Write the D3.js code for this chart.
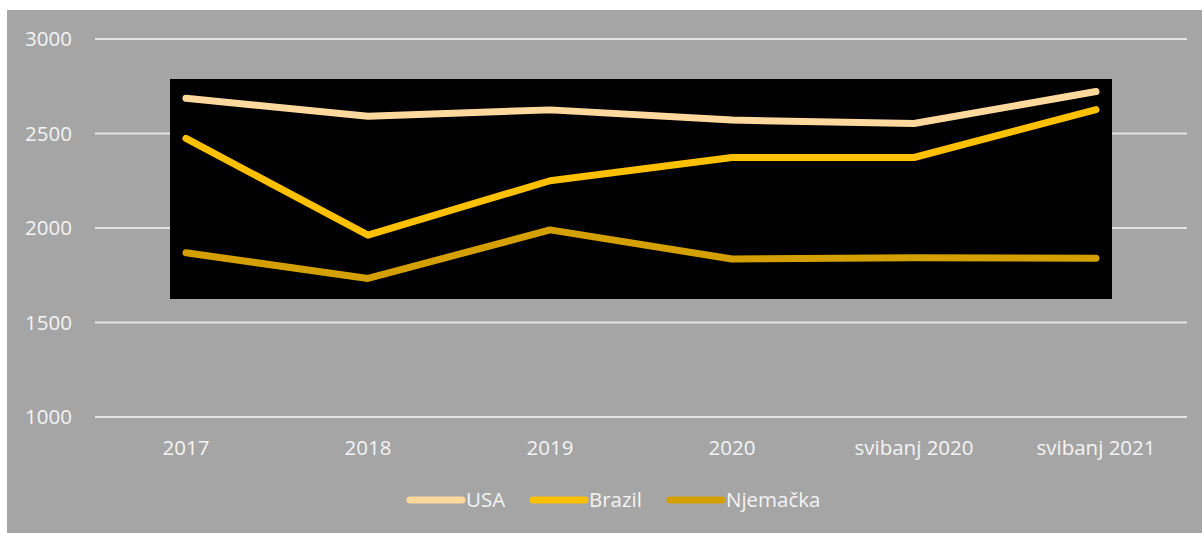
<!DOCTYPE html>
<html>
<head>
<meta charset="utf-8">
<script src="https://cdn.jsdelivr.net/npm/d3@7"></script>
<style>
  html, body { margin: 0; padding: 0; background: #ffffff; }
  svg { display: block; }
  text { font-family: "Open Sans", sans-serif; }
</style>
</head>
<body>
<div id="chart"></div>
<script>
var categories = ['2017', '2018', '2019', '2020', 'svibanj 2020', 'svibanj 2021'];
var seriesNames = ['USA', 'Brazil', 'Njemačka'];
var usaValues = [2686, 2591, 2625, 2571, 2553, 2722];
var brazilValues = [2474, 1962, 2250, 2373, 2373, 2626];
var njemackaValues = [1869, 1733, 1990, 1836, 1842, 1840];
var yTicks = [1000, 1500, 2000, 2500, 3000];
var seriesColors = ['#ffd89e', '#ffc000', '#d4a000'];

var width = 1202;
var height = 533;
var fontsize = 20.5;

var series = [usaValues, brazilValues, njemackaValues].map(function(values, i){
    return { name: seriesNames[i], color: seriesColors[i], values: values };
});

var svg = d3.select('#chart')
    .append('svg')
    .attr('width', width)
    .attr('height', height);

//grey chart area
svg.append('rect')
    .attr('x', 7)
    .attr('y', 10)
    .attr('width', width - 7)
    .attr('height', height - 10)
    .style('fill', '#a5a5a5');

var x = d3.scalePoint()
    .domain(categories)
    .range([95, 1187])
    .padding(0.5);

var y = d3.scaleLinear()
    .domain([1000, 3000])
    .range([417, 39]);

//gridlines
svg.append('g')
    .attr('class', 'grid')
    .selectAll('line')
    .data(yTicks)
    .enter()
    .append('line')
    .attr('x1', 95)
    .attr('x2', 1187)
    .attr('y1', function(d){ return y(d); })
    .attr('y2', function(d){ return y(d); })
    .style('stroke', '#e4e4e4')
    .style('stroke-width', 2);

//y labels
svg.append('g')
    .selectAll('text')
    .data(yTicks)
    .enter()
    .append('text')
    .attr('x', 72)
    .attr('y', function(d){ return y(d); })
    .attr('dy', '0.35em')
    .attr('text-anchor', 'end')
    .style('font-size', fontsize + 'px')
    .style('fill', '#f4f4f4')
    .text(function(d){ return d; });

//x labels
svg.append('g')
    .selectAll('text')
    .data(categories)
    .enter()
    .append('text')
    .attr('x', function(d){ return x(d); })
    .attr('y', 455)
    .attr('text-anchor', 'middle')
    .style('font-size', fontsize + 'px')
    .style('fill', '#f4f4f4')
    .text(function(d){ return d; });

//black plot panel
svg.append('rect')
    .attr('x', 170)
    .attr('y', 79)
    .attr('width', 942)
    .attr('height', 220)
    .style('fill', '#000000');

var line = d3.line()
    .x(function(d, i){ return x(categories[i]); })
    .y(function(d){ return y(d); });

svg.append('g')
    .selectAll('path')
    .data(series)
    .enter()
    .append('path')
    .attr('d', function(d){ return line(d.values); })
    .style('fill', 'none')
    .style('stroke', function(d){ return d.color; })
    .style('stroke-width', 7)
    .style('stroke-linecap', 'round')
    .style('stroke-linejoin', 'round');

//legend
var legendX = [407, 530, 667];
var legend = svg.append('g')
    .selectAll('g')
    .data(series)
    .enter()
    .append('g')
    .attr('transform', function(d, i){ return 'translate(' + legendX[i] + ',500)'; });

legend.append('line')
    .attr('x1', 3)
    .attr('x2', 55)
    .style('stroke', function(d){ return d.color; })
    .style('stroke-width', 7)
    .style('stroke-linecap', 'round');

legend.append('text')
    .attr('x', 59)
    .attr('dy', '0.35em')
    .style('font-size', fontsize + 'px')
    .style('fill', '#f4f4f4')
    .text(function(d){ return d.name; });
</script>
</body>
</html>
